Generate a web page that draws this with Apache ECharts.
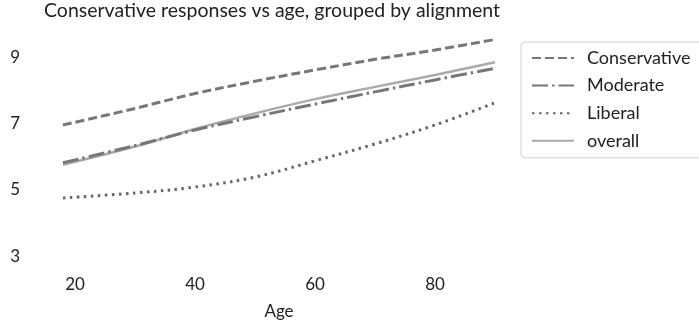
<!DOCTYPE html>
<html>
<head>
<meta charset="utf-8">
<script src="https://cdn.jsdelivr.net/npm/echarts@6/dist/echarts.min.js"></script>
<style>
  html, body { margin: 0; padding: 0; background: #fff; }
  #chart { width: 699px; height: 331px; }
</style>
</head>
<body>
<div id="chart"></div>
<script>
// Fitted conservative-response score by age, per political alignment
const ages = [18, 30, 40, 50, 60, 70, 80, 90];
const conservative = [6.95, 7.45, 7.90, 8.27, 8.61, 8.93, 9.21, 9.53];
const moderate     = [5.81, 6.33, 6.80, 7.20, 7.58, 7.95, 8.31, 8.66];
const liberal      = [4.75, 4.90, 5.08, 5.38, 5.87, 6.38, 6.95, 7.62];
const overall      = [5.75, 6.30, 6.83, 7.30, 7.73, 8.10, 8.46, 8.84];
const xTicks = [20, 40, 60, 80];
const yTicks = [3, 5, 7, 9];

const FONT = 'Lato';
const pairs = vals => ages.map((a, i) => [a, vals[i]]);

function lineSeries(name, vals, color, width, dash) {
  return {
    name: name,
    type: 'line',
    data: pairs(vals),
    smooth: 0.35,
    symbol: 'none',
    lineStyle: { color: color, width: width, type: dash, cap: 'butt' },
    itemStyle: { color: color },
    emphasis: { disabled: true },
    z: name === 'overall' ? 1 : 2
  };
}

const chart = echarts.init(document.getElementById('chart'), null, { renderer: 'canvas' });
chart.setOption({
  animation: false,
  backgroundColor: '#ffffff',
  textStyle: { fontFamily: FONT },
  title: {
    text: 'Conservative responses vs age, grouped by alignment',
    left: 39,
    top: -4,
    textStyle: { fontFamily: FONT, fontSize: 19.5, fontWeight: 'normal', color: '#222' }
  },
  grid: { left: 51, right: 192, top: 30.5, bottom: 58.4, containLabel: false },
  xAxis: {
    type: 'value',
    min: 16,
    max: 92,
    name: 'Age',
    nameLocation: 'middle',
    nameGap: 30,
    nameTextStyle: { fontFamily: FONT, fontSize: 17, color: '#222' },
    axisLine: { show: false },
    axisTick: { show: false },
    splitLine: { show: false },
    axisLabel: { customValues: xTicks, margin: 3, fontFamily: FONT, fontSize: 17, color: '#222' }
  },
  yAxis: {
    type: 'value',
    min: 2.5,
    max: 9.8,
    axisLine: { show: false },
    axisTick: { show: false },
    splitLine: { show: false },
    axisLabel: { customValues: yTicks, margin: 31, fontFamily: FONT, fontSize: 17, color: '#222' }
  },
  legend: {
    left: 521,
    top: 42,
    orient: 'vertical',
    padding: [7, 14, 8, 10],
    itemGap: 9.6,
    itemWidth: 42,
    itemHeight: 16,
    borderColor: '#d0d0d0',
    borderWidth: 1,
    borderRadius: 4,
    itemStyle: { opacity: 0 },
    textStyle: { fontFamily: FONT, fontSize: 18, color: '#222', padding: [0, 0, 0, 8] },
    data: ['Conservative', 'Moderate', 'Liberal', 'overall']
  },
  series: [
    lineSeries('Conservative', conservative, '#777777', 3, [9, 4]),
    lineSeries('Moderate', moderate, '#777777', 3, [16, 4, 2.5, 4]),
    lineSeries('Liberal', liberal, '#666666', 3, [2.5, 4.5]),
    lineSeries('overall', overall, '#aaaaaa', 2.5, 'solid')
  ]
});
</script>
</body>
</html>
